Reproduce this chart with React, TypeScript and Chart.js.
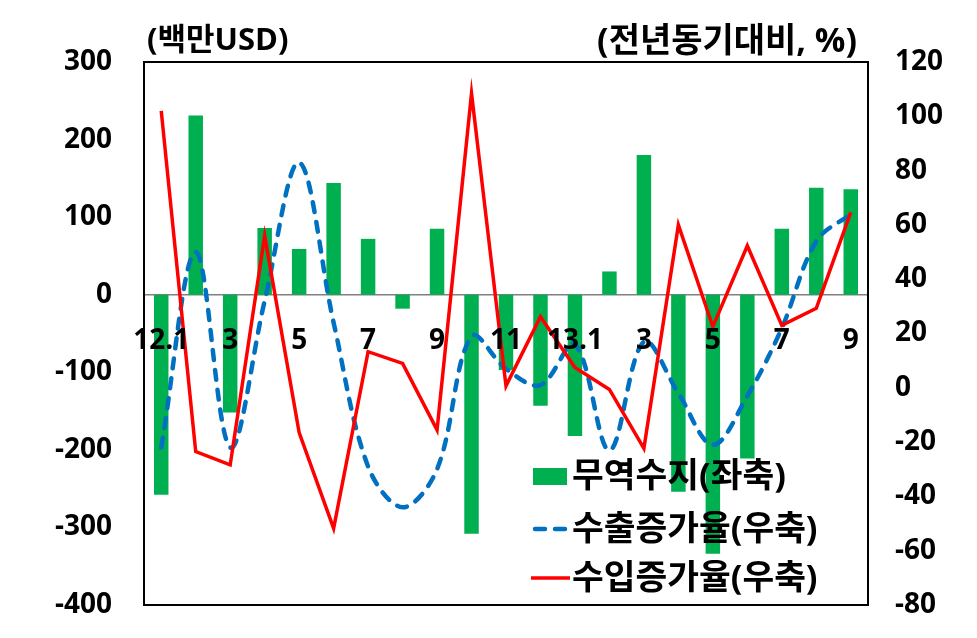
import React, { useEffect, useRef } from "react";
import { Chart, registerables } from "chart.js";

Chart.register(...registerables);

const categories = ["12.1","2","3","4","5","6","7","8","9","10","11","12","13.1","2","3","4","5","6","7","8","9"];
const tradeBalance = [-258, 231, -152, 86, 59, 144, 72, -18, 85, -308, -97, -143, -182, 30, 180, -254, -334, -211, 85, 138, 136];
const exportGrowth = [-22, 50, -22, 32, 83, 24, -29, -44, -30, 19, 7, 1, 16, -23, 17, -2, -21, -3, 22, 54, 64];
const importGrowth = [102, -23.5, -28.4, 56, -16.5, -51.8, 13.3, 9, -15.5, 108.5, 0.7, 26.2, 7.5, -0.6, -22.3, 60, 22.5, 52.3, 23, 29.3, 64.6];

const leftTitle = "(백만USD)";
const rightTitle = "(전년동기대비, %)";
const seriesNames = ["무역수지(좌축)", "수출증가율(우축)", "수입증가율(우축)"];

const GREEN = "#00B050";
const BLUE = "#0070C0";
const RED = "#FF0000";
const FONT = "'Open Sans', 'Noto Sans CJK KR', sans-serif";

const overlayPlugin = {
  id: "overlay",
  afterDraw(chart: any) {
    const { ctx, chartArea } = chart;
    const { left, top, right, bottom } = chartArea;
    ctx.save();
    // frame
    ctx.strokeStyle = "#000";
    ctx.lineWidth = 2;
    ctx.strokeRect(left, top, right - left, bottom - top);
    // titles
    ctx.fillStyle = "#000";
    ctx.textBaseline = "middle";
    ctx.textAlign = "left";
    ctx.font = `bold 31px ${FONT}`;
    ctx.fillText(leftTitle, left + 3, 41);
    ctx.textAlign = "right";
    ctx.font = `bold 34px ${FONT}`;
    ctx.fillText(rightTitle, right - 11, 42);
    // legend
    const lx = left + 389;
    const ys = [476, 529, 578];
    ctx.font = `bold 34.5px ${FONT}`;
    ctx.textAlign = "left";
    ctx.fillStyle = GREEN;
    ctx.fillRect(lx, ys[0] - 8, 34, 17);
    ctx.strokeStyle = BLUE;
    ctx.lineWidth = 4.5;
    ctx.lineCap = "round";
    ctx.setLineDash([10, 10]);
    ctx.beginPath();
    ctx.moveTo(lx + 2, ys[1]);
    ctx.lineTo(lx + 36, ys[1]);
    ctx.stroke();
    ctx.setLineDash([]);
    ctx.lineCap = "butt";
    ctx.strokeStyle = RED;
    ctx.lineWidth = 3.5;
    ctx.beginPath();
    ctx.moveTo(lx - 2, ys[2]);
    ctx.lineTo(lx + 37, ys[2]);
    ctx.stroke();
    ctx.fillStyle = "#000";
    seriesNames.forEach((n, i) => ctx.fillText(n, lx + 39, ys[i] + 1));
    ctx.restore();
  },
};

export default function App() {
  const ref = useRef<HTMLCanvasElement>(null);
  useEffect(() => {
    if (!ref.current) return;
    const chart = new Chart(ref.current, {
      type: "bar",
      data: {
        labels: categories,
        datasets: [
          {
            type: "line",
            label: seriesNames[2],
            data: importGrowth,
            yAxisID: "y1",
            borderColor: RED,
            backgroundColor: RED,
            borderWidth: 3.5,
            pointRadius: 0,
            tension: 0,
            order: 1,
          } as any,
          {
            type: "line",
            label: seriesNames[1],
            data: exportGrowth,
            yAxisID: "y1",
            borderColor: BLUE,
            backgroundColor: BLUE,
            borderWidth: 4.5,
            borderDash: [10, 10],
            borderCapStyle: "round",
            pointRadius: 0,
            tension: 0.35,
            order: 2,
          } as any,
          {
            type: "bar",
            label: seriesNames[0],
            data: tradeBalance,
            yAxisID: "y",
            backgroundColor: GREEN,
            barPercentage: 0.42,
            categoryPercentage: 1,
            order: 3,
          } as any,
        ],
      },
      options: {
        responsive: false,
        animation: false,
        events: [],
        layout: { padding: { top: 62, bottom: 33, left: 0, right: 0 } },
        plugins: { legend: { display: false }, tooltip: { enabled: false } },
        scales: {
          x: {
            type: "category",
            position: { y: 0 } as any,
            offset: true,
            grid: { display: false, drawTicks: false },
            border: { display: true, color: "#808080", width: 1.5 },
            ticks: {
              z: 1,
              autoSkip: false,
              maxRotation: 0,
              padding: 30,
              color: "#000",
              font: { family: FONT, size: 28, weight: "bold" },
              callback: (_v: any, i: number) => (i % 2 === 0 ? categories[i] : ""),
            },
          } as any,
          y: {
            position: "left",
            min: -400,
            max: 300,
            grid: { display: false, drawTicks: false },
            border: { display: false },
            ticks: {
              stepSize: 100,
              padding: 32,
              color: "#000",
              font: { family: FONT, size: 28, weight: "bold" },
            },
            afterFit: (s: any) => { s.width = 144; s.paddingTop = 0; s.paddingBottom = 0; },
          },
          y1: {
            position: "right",
            min: -80,
            max: 120,
            grid: { display: false, drawTicks: false },
            border: { display: false },
            ticks: {
              stepSize: 20,
              padding: 27,
              color: "#000",
              font: { family: FONT, size: 28, weight: "bold" },
            },
            afterFit: (s: any) => { s.width = 109; s.paddingTop = 0; s.paddingBottom = 0; },
          },
        },
      },
      plugins: [overlayPlugin],
    });
    return () => chart.destroy();
  }, []);
  return (
    <div style={{ position: "fixed", left: 0, top: 0, width: 977, height: 638, background: "#fff" }}>
      <canvas ref={ref} width={977} height={638} style={{ display: "block" }} />
    </div>
  );
}
